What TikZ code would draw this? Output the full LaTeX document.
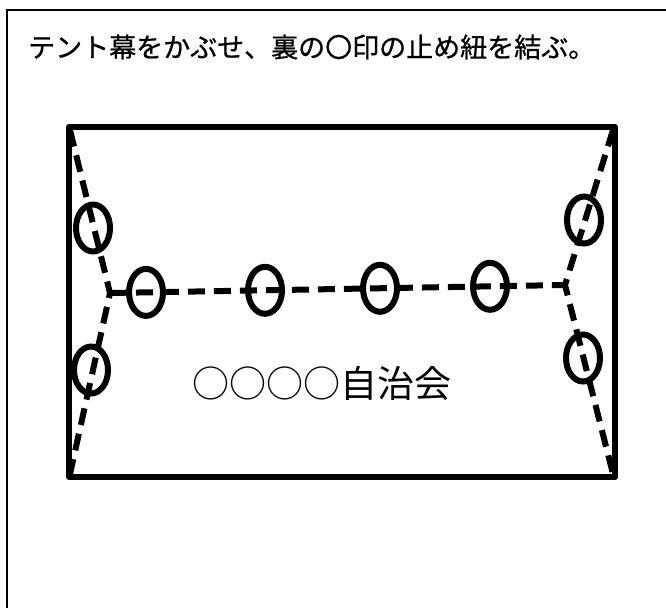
\documentclass[tikz,border=0pt]{standalone}
\usepackage{fontspec}
\newfontfamily\jp{Noto Sans CJK JP}
\newfontfamily\jpt[FakeBold=0.8]{Noto Sans CJK JP}
\usetikzlibrary{shapes.geometric}
\tikzset{
  frame/.style={line width=1.5pt},
  tent/.style={line width=6pt, line join=round},
  cord/.style={line width=6pt, dash pattern=on 17pt off 9pt},
  ring/.style={draw, ellipse, line width=6pt, minimum width=34pt, minimum height=47pt, inner sep=0pt},
  title/.style={font=\jpt\fontsize{27}{27}\selectfont, anchor=west, inner sep=0pt},
  label/.style={font=\jp\fontsize{37}{37}\selectfont, inner sep=0pt}
}
\begin{document}
\begin{tikzpicture}[x=1pt,y=-1pt]
\useasboundingbox (0,0) rectangle (666,608);
% outer frame (continues beyond the page)
\coordinate (fTR) at (666,10);
\coordinate (fTL) at (7,10);
\coordinate (fBL) at (7,608);
\draw[frame] (fTR) -- (fTL) -- (fBL);
% title
\node[title] (t) at (28,47) {テント幕をかぶせ、裏の〇印の止め紐を結ぶ。};
% tent rectangle
\coordinate (TL) at (69,127);
\coordinate (TR) at (615,127);
\coordinate (BR) at (615,477);
\coordinate (BL) at (69,477);
\draw[tent] (TL) -- (TR) -- (BR) -- (BL) -- cycle;
% cords
\coordinate (cTL) at (70,130);
\coordinate (cBL) at (70,474);
\coordinate (cTR) at (613,130);
\coordinate (cBR) at (613,474);
\coordinate (jL) at (110,293);
\coordinate (jR) at (565,285);
\draw[cord] (cTL) -- (jL) -- (cBL);
\draw[cord] (jL) -- (jR);
\draw[cord] (cTR) -- (jR) -- (cBR);
% rings
\node[ring] (r1) at (93,228) {};
\node[ring] (r2) at (91,370) {};
\node[ring] (r3) at (584,220) {};
\node[ring] (r4) at (583,358) {};
\node[ring] (m1) at (146,292.4) {};
\node[ring] (m2) at (265,290.3) {};
\node[ring] (m3) at (380,288.3) {};
\node[ring] (m4) at (490,286.3) {};
% label
\node[label] (lab) at (322,383) {○○○○自治会};
\end{tikzpicture}
\end{document}
